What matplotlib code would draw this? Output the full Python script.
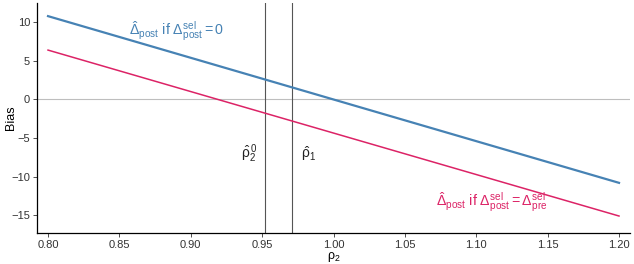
import numpy as np
import matplotlib
matplotlib.use('Agg')
import matplotlib.pyplot as plt

plt.rcParams['font.family'] = ['Liberation Sans', 'DejaVu Sans']
plt.rcParams['mathtext.fontset'] = 'custom'
plt.rcParams['mathtext.rm'] = 'Liberation Sans'
plt.rcParams['mathtext.it'] = 'Liberation Sans'
plt.rcParams['mathtext.bf'] = 'Liberation Sans:bold'

# data
rho2 = [0.80, 1.20]
bias_zero = [10.8, -10.8]      # Delta_post^sel = 0
bias_pre = [6.4, -15.1]        # Delta_post^sel = Delta_pre^sel
rho2_hat0 = 0.952
rho1_hat = 0.971

blue = '#4682B4'
red = '#DC2366'

fig = plt.figure(figsize=(6.34, 2.64), dpi=100)
ax = fig.add_axes([0.0584, 0.1174, 0.9353, 0.8712])

ax.axhline(0, color='#BEBEBE', lw=0.8, zorder=1)
ax.axvline(rho2_hat0, color='#555555', lw=0.8, zorder=1)
ax.axvline(rho1_hat, color='#555555', lw=0.8, zorder=1)

ax.plot(rho2, bias_zero, color=blue, lw=1.6, zorder=3)
ax.plot(rho2, bias_pre, color=red, lw=1.1, zorder=3)

ax.text(0.857, 8.8, r'$\hat{\Delta}_{\mathrm{post}}$ if $\Delta^{\mathrm{sel}}_{\mathrm{post}} = 0$',
        color=blue, fontsize=10.3, va='center', ha='left')
ax.text(1.072, -13.3, r'$\hat{\Delta}_{\mathrm{post}}$ if $\Delta^{\mathrm{sel}}_{\mathrm{post}} = \Delta^{\mathrm{sel}}_{\mathrm{pre}}$',
        color=red, fontsize=10.3, va='center', ha='left')
ax.text(0.9465, -7.0, r'$\hat{\rho}^{\,0}_{2}$', fontsize=10, ha='right', va='center', color='#222222')
ax.text(0.977, -7.0, r'$\hat{\rho}_{1}$', fontsize=10, ha='left', va='center', color='#222222')

ax.set_xlim(0.7923, 1.2077)
ax.set_ylim(-17.3, 12.5)
ax.set_xticks(np.arange(0.80, 1.201, 0.05))
ax.set_xticklabels(['%.2f' % v for v in np.arange(0.80, 1.201, 0.05)])
ax.set_yticks([-15, -10, -5, 0, 5, 10])
ax.set_yticklabels(['\u221215', '\u221210', '\u22125', '0', '5', '10'])
ax.tick_params(labelsize=8, length=3, width=0.6, colors='#333333', labelcolor='#333333', pad=2)

for s in ['top', 'right']:
    ax.spines[s].set_visible(False)
for s in ['left', 'bottom']:
    ax.spines[s].set_linewidth(0.9)
    ax.spines[s].set_color('black')

ax.set_xlabel(r'$\rho_{2}$', fontsize=9, labelpad=0)
ax.set_ylabel('Bias', fontsize=9)
ax.yaxis.set_label_coords(-0.034, 0.5)

fig.savefig('out.png', dpi=100)
